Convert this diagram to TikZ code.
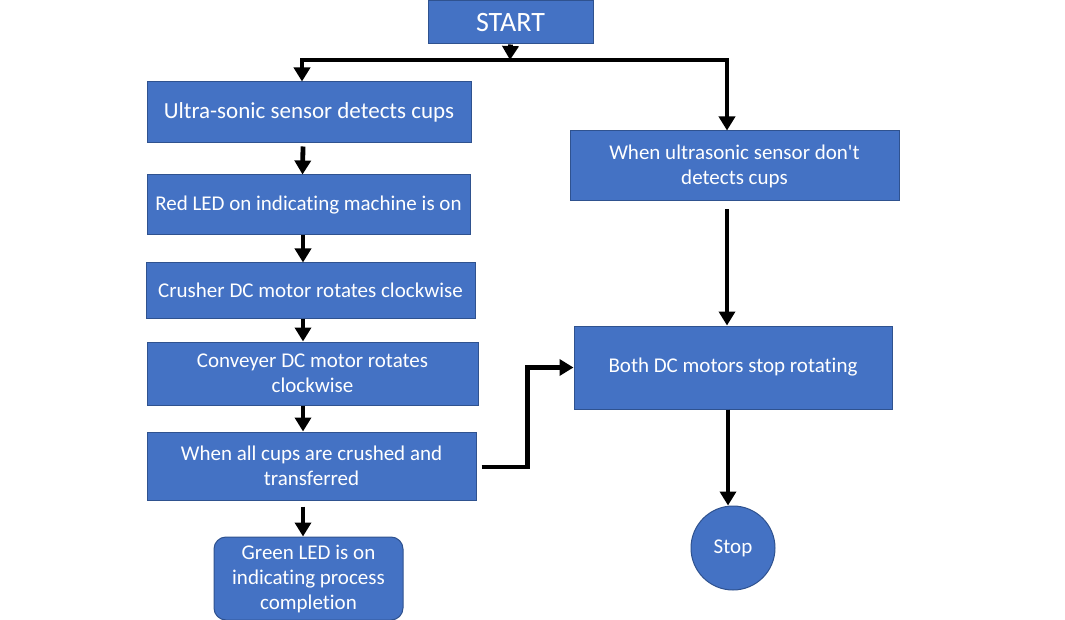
\documentclass[tikz,border=0pt]{standalone}
\usepackage{fontspec}
\setmainfont[Ligatures=NoCommon]{Carlito}
\usetikzlibrary{calc,arrows.meta}
\definecolor{boxfill}{HTML}{4472C4}
\definecolor{boxedge}{HTML}{2F528F}
\tikzset{
	box/.style={rectangle,draw=boxedge,line width=1pt,fill=boxfill,text=white,align=center,inner sep=0pt,font=\fontsize{21}{25}\selectfont},
	arr/.style={line width=4.8pt,-{Triangle[width=16pt,length=14pt]}}
}

\begin{document}
\begin{tikzpicture}[x=1pt,y=-1pt]
		\useasboundingbox (0,0) rectangle (1065,620);
		\node (start) at (510.5,22.5) [box,minimum width=165pt,minimum height=43pt,font=\fontsize{28}{30}\selectfont] {START};
		\node (ultra) at (309,112.5) [box,minimum width=324pt,minimum height=61pt,font=\fontsize{23}{25}\selectfont] {Ultra-sonic sensor detects cups};
		\node (redled) at (308.5,205) [box,minimum width=323pt,minimum height=60pt] {Red LED on indicating machine is on};
		\node (crusher) at (310.5,290.5) [box,minimum width=329pt,minimum height=55pt] {Crusher DC motor rotates clockwise};
		\node (conveyer) at (312.5,373.5) [box,minimum width=331pt,minimum height=63pt] {Conveyer DC motor rotates\\clockwise};
		\node (allcups) at (311.5,466) [box,minimum width=329pt,minimum height=68pt] {When all cups are crushed and\\transferred};
		\node (greenled) at (308.5,578.5) [box,rounded corners=12pt,minimum width=189pt,minimum height=83pt] {Green LED is on\\indicating process\\completion};
		\node (noultra) at (734.5,166) [box,minimum width=329pt,minimum height=70pt] {When ultrasonic sensor don\textquotesingle t\\detects cups};
		\node (stopmotors) at (733,367.5) [box,minimum width=318pt,minimum height=83pt] {Both DC motors stop rotating};
		\node (stop) at (733,548) [box,circle,minimum size=84pt,font=\fontsize{21}{24}\selectfont] {Stop};
		\coordinate (split) at (510,60);
		\draw[arr] (start.south) -- (split);
		\draw[arr] (split) -| ($(ultra.north)+(-7,0)$);
		\draw[arr] (split) -| ($(noultra.north)+(-7.5,0)$);
		\draw[arr] ($(ultra.south)+(-6,3)$) -- ($(redled.north)+(-6,0)$);
		\draw[arr] ($(redled.south)+(-5.5,0)$) -- ($(crusher.north)+(-7.5,0)$);
		\draw[arr] ($(crusher.south)+(-7.5,0)$) -- ($(conveyer.north)+(-9.5,0)$);
		\draw[arr] ($(conveyer.south)+(-9.5,0)$) -- ($(allcups.north)+(-8.5,0)$);
		\draw[arr] ($(allcups.south)+(-8.5,6)$) -- ($(greenled.north)+(-5.5,0)$);
		\draw[arr] ($(noultra.south)+(-7.5,8)$) -- ($(stopmotors.north)+(-6,0)$);
		\draw[arr] ($(stopmotors.south)+(-5,0)$) -- (stop.north -| {$(stopmotors.south)+(-5,0)$});
		\draw[arr] ($(allcups.east)+(5,1)$) -- ++(46,0) |- (stopmotors.west);
	\end{tikzpicture}
\end{document}
